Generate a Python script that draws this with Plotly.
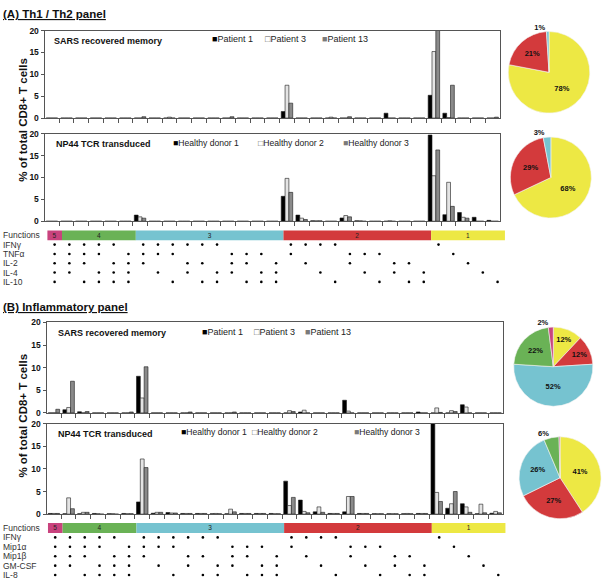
import numpy as np
import plotly.graph_objects as go

W, H = 608, 584
FONT = "Liberation Sans, Arial, sans-serif"

# ---------------- data ----------------
categories = list(range(1, 32))
# function combinations (1 = function positive), one string per category
combos = ["11111",
          "11110", "11101", "11011", "10111", "01111",
          "11100", "11010", "11001", "10110", "10101", "10011", "01110", "01101", "01011", "00111",
          "11000", "10100", "10010", "10001", "01100", "01010", "01001", "00110", "00101", "00011",
          "10000", "01000", "00100", "00010", "00001"]
func_group_labels = ["5", "4", "3", "2", "1"]
func_group_sizes = [1, 5, 10, 10, 5]

th_functions = ["IFNγ", "TNFα", "IL-2", "IL-4", "IL-10"]
inf_functions = ["IFNγ", "Mip1α", "Mip1β", "GM-CSF", "IL-8"]

sars_names = ["Patient 1", "Patient 3", "Patient 13"]
np44_names = ["Healthy donor 1", "Healthy donor 2", "Healthy donor 3"]

# (A) Th1/Th2 panel, SARS recovered memory
a_sars_p1 = [0, 0, 0, 0, 0, 0, 0, 0, 0, 0, 0, 0, 0, 0, 0, 0, 1.5, 0, 0, 0,
             0, 0, 0, 1.1, 0, 0, 5.2, 1.1, 0, 0, 0]
a_sars_p3 = [0, 0, 0, 0, 0, 0, 0, 0, 0.2, 0, 0, 0, 0, 0, 0, 0, 7.5, 0, 0, 0.2,
             0, 0, 0, 0, 0, 0, 15.2, 0.1, 0, 0, 0]
a_sars_p13 = [0, 0, 0, 0, 0, 0, 0.3, 0, 0, 0, 0, 0, 0.3, 0, 0, 0, 3.4, 0, 0, 0,
              0.3, 0, 0, 0, 0, 0, 20.5, 7.5, 0, 0, 0.2]
# (A) NP44 TCR transduced
a_np44_hd1 = [0, 0, 0, 0, 0, 0, 1.4, 0, 0, 0, 0, 0, 0, 0, 0, 0, 5.7, 1.4, 0.1, 0,
              0.75, 0.1, 0, 0, 0, 0, 19.7, 1.5, 2.0, 0.9, 0.2]
a_np44_hd2 = [0, 0, 0, 0, 0, 0, 1.0, 0, 0, 0, 0, 0, 0, 0, 0, 0, 9.8, 0.7, 0.1, 0,
              1.3, 0.1, 0, 0.1, 0, 0, 10.4, 8.9, 0.9, 0, 0]
a_np44_hd3 = [0, 0, 0, 0, 0, 0, 0.7, 0, 0, 0, 0, 0, 0, 0, 0, 0, 6.6, 0.4, 0.1, 0,
              1.0, 0, 0, 0, 0, 0, 16.3, 3.4, 0.7, 0, 0]
# (B) Inflammatory panel, SARS recovered memory
b_sars_p1 = [0, 0.7, 0.25, 0, 0, 0, 8.1, 0, 0, 0, 0, 0, 0, 0, 0, 0, 0, 0.2, 0, 0,
             2.8, 0, 0, 0, 0, 0.2, 0, 0, 1.8, 0, 0]
b_sars_p3 = [0, 1.2, 0, 0, 0, 0, 3.3, 0, 0, 0, 0, 0, 0, 0, 0, 0, 0.5, 0.6, 0, 0,
             0.4, 0, 0, 0, 0, 0, 1.1, 0.5, 1.3, 0, 0]
b_sars_p13 = [0.8, 7.0, 0.3, 0, 0, 0.2, 10.2, 0, 0, 0.2, 0, 0, 0.2, 0, 0, 0, 0.3, 0, 0, 0,
              0, 0, 0, 0, 0, 0, 0.1, 0.3, 0, 0, 0]
# (B) NP44 TCR transduced
b_np44_hd1 = [0.15, 0.1, 0.1, 0.15, 0.1, 0.15, 2.7, 0.2, 0.35, 0.15, 0.15, 0.1, 0.1, 0.15, 0.15,
              0.15, 7.3, 3.1, 0.5, 0.15, 0.5, 0.15, 0.1, 0.1, 0.1, 0.15, 22, 1.3, 2.3, 0.1, 0.2]
b_np44_hd2 = [0.15, 3.6, 0.4, 0.1, 0.1, 0.1, 12.2, 0.4, 0.25, 0.15, 0.15, 0.15, 1.1, 0.15, 0.15,
              0.1, 1.9, 0.6, 1.6, 0.15, 3.9, 0.15, 0.1, 0.1, 0.15, 0.15, 4.8, 2.3, 1.6, 2.2, 0.6]
b_np44_hd3 = [0.15, 1.2, 0.4, 0, 0, 0.1, 10.3, 0.4, 0.25, 0.15, 0.15, 0.1, 0.5, 0.15, 0.15,
              0.1, 3.7, 0.3, 0.4, 0.15, 3.9, 0.15, 0.1, 0.1, 0.1, 0.15, 2.8, 5.0, 0.4, 0.3, 0.3]

# pie shares, order: 1, 2, 3, 4, 5 functions (%)
pie_groups = ["1", "2", "3", "4", "5"]
pie_a_sars = [78, 21, 1, 0, 0]
pie_a_np44 = [68, 29, 3, 0, 0]
pie_b_sars = [12, 12, 52, 22, 2]
pie_b_np44 = [41, 27, 26, 6, 0.4]

# ---------------- styles ----------------
group_colors = {"5": "#C9437E", "4": "#6AB256", "3": "#76C3D0", "2": "#D33A3C", "1": "#EDE844"}
series_colors = ["#000000", "#E4E4E4", "#8A8A8A"]
swatch = ["■", "□", "■"]
swatch_colors = ["#000000", "#555555", "#7A7A7A"]


def fx(px):
    return min(max(px / W, 0), 1)


def fy(py):
    return min(max(1 - py / H, 0), 1)


fig = go.Figure()

panels = [
    # name, axis id, data, names, domain x px, domain y px, title pos, legend xs, legend y, legend font
    ("SARS recovered memory", 1, [a_sars_p1, a_sars_p3, a_sars_p13], sars_names,
     (45, 505), (26, 115), (53, 36.5), [212, 266, 323], 34.5, 9),
    ("NP44 TCR transduced", 2, [a_np44_hd1, a_np44_hd2, a_np44_hd3], np44_names,
     (45, 505), (131, 220), (55, 141), [173, 258.5, 344.5], 140, 8.6),
    ("SARS recovered memory", 3, [b_sars_p1, b_sars_p3, b_sars_p13], sars_names,
     (47, 508), (323, 415), (57, 334), [202, 254.5, 306], 333, 9),
    ("NP44 TCR transduced", 4, [b_np44_hd1, b_np44_hd2, b_np44_hd3], np44_names,
     (47, 508), (426, 518), (57, 436), [181, 252, 355.5], 434.5, 8.6),
]

annotations = []
layout_axes = {}
for title, k, series, names, dx, dy, tpos, lxs, ly, lfs in panels:
    xa = "x" if k == 1 else f"x{k}"
    ya = "y" if k == 1 else f"y{k}"
    for s, (vals, nm) in enumerate(zip(series, names)):
        fig.add_trace(go.Bar(x=categories, y=vals, name=nm, xaxis=xa, yaxis=ya,
                             marker=dict(color=series_colors[s], line=dict(color="#1a1a1a", width=0.6)),
                             showlegend=False, hoverinfo="y+name"))
    kx = "xaxis" if k == 1 else f"xaxis{k}"
    ky = "yaxis" if k == 1 else f"yaxis{k}"
    layout_axes[kx] = dict(domain=[fx(dx[0]), fx(dx[1])], range=[0.5, 31.5], anchor=ya,
                           showline=True, mirror=True, linecolor="#555", linewidth=1,
                           ticks="outside", ticklen=4, tickcolor="#555",
                           tickvals=[c + 0.5 for c in categories[:-1]],
                           showticklabels=False, showgrid=False, zeroline=False)
    layout_axes[ky] = dict(domain=[fy(dy[1]), fy(dy[0])], range=[0, 20], anchor=xa,
                           tickvals=[0, 5, 10, 15, 20], showline=True, mirror=True,
                           linecolor="#555", linewidth=1, ticks="outside", ticklen=3,
                           tickcolor="#555", showgrid=False, zeroline=False,
                           tickfont=dict(family=FONT, size=8.5, color="#111", weight="bold"))
    annotations.append(dict(text=f"<b>{title}</b>", xref="paper", yref="paper",
                            x=fx(tpos[0]), y=fy(tpos[1]), xanchor="left", yanchor="middle",
                            showarrow=False, font=dict(family=FONT, size=9, color="#111")))
    for s, nm in enumerate(names):
        annotations.append(dict(text=f"<span style='color:{swatch_colors[s]}'>{swatch[s]}</span>{nm}",
                                xref="paper", yref="paper", x=fx(lxs[s]), y=fy(ly),
                                xanchor="left", yanchor="middle", showarrow=False,
                                font=dict(family=FONT, size=lfs, color="#222")))

# ---------------- function matrices ----------------
matrices = [
    (5, th_functions, (47.7, 510), (228, 287), 234.3, 9.48),
    (6, inf_functions, (48.3, 510.7), (526, 584), 532.1, 9.58),
]
starts = np.concatenate([[0], np.cumsum(func_group_sizes)[:-1]])
for k, funcs, dx, dy, row0, step in matrices:
    xa, ya = f"x{k}", f"y{k}"
    fig.add_trace(go.Bar(orientation="h", x=func_group_sizes, base=starts,
                         y=[0] * len(func_group_sizes), width=10 / step,
                         marker=dict(color=[group_colors[g] for g in func_group_labels], line=dict(width=0)),
                         text=func_group_labels, textposition="inside", insidetextanchor="middle",
                         textangle=0, constraintext="none",
                         textfont=dict(family=FONT, size=6.5, color="#222"),
                         xaxis=xa, yaxis=ya, showlegend=False, hoverinfo="skip"))
    dot_x, dot_y = [], []
    for r in range(len(funcs)):
        for i, cmb in enumerate(combos):
            if cmb[r] == "1":
                dot_x.append(i + 0.5)
                dot_y.append(r + 1)
    fig.add_trace(go.Scatter(x=dot_x, y=dot_y, mode="markers", xaxis=xa, yaxis=ya,
                             marker=dict(size=2.6, color="#000"), showlegend=False,
                             hoverinfo="skip"))
    top = -(row0 - dy[0]) / step
    bot = (dy[1] - row0) / step
    layout_axes[f"xaxis{k}"] = dict(domain=[fx(dx[0]), fx(dx[1])], range=[0, 31], anchor=ya,
                                    visible=False)
    layout_axes[f"yaxis{k}"] = dict(domain=[fy(dy[1]), fy(dy[0])], range=[bot, top], anchor=xa,
                                    visible=False)
    for r, lab in enumerate(["Functions"] + funcs):
        annotations.append(dict(text=lab, xref="paper", yref=ya, x=fx(1), y=r,
                                xanchor="left", yanchor="middle", showarrow=False,
                                font=dict(family=FONT, size=8.5, color="#333")))

# ---------------- pies ----------------
pies = [
    (pie_a_sars, (513, 596), (27, 110)),
    (pie_a_np44, (515, 597.7), (134.3, 216.7)),
    (pie_b_sars, (518.3, 599.3), (327.7, 408.3)),
    (pie_b_np44, (523.3, 608), (439.3, 522.7)),
]
pie_font = dict(family=FONT, size=7.5, color="#111", weight="bold")
for vals, dx, dy in pies:
    labs = [g for g, v in zip(pie_groups, vals) if v > 0]
    vv = [v for v in vals if v > 0]
    fig.add_trace(go.Pie(values=vv, labels=labs, sort=False, direction="clockwise", rotation=0,
                         domain=dict(x=[fx(dx[0]), fx(dx[1])], y=[fy(dy[1]), fy(dy[0])]),
                         marker=dict(colors=[group_colors[g] for g in labs],
                                     line=dict(color="#f4f4f4", width=0.6)),
                         text=[f"{v:.0f}%" if v >= 1 else "" for v in vv],
                         textinfo="text",
                         textposition=["inside" if v >= 10 else ("outside" if v >= 1 else "none") for v in vv],
                         insidetextorientation="horizontal",
                         textfont=pie_font, insidetextfont=pie_font, outsidetextfont=pie_font,
                         showlegend=False, hoverinfo="label+percent"))

# ---------------- headers / axis titles ----------------
annotations += [
    dict(text="<b><u>(A) Th1 / Th2 panel</u></b>", xref="paper", yref="paper", x=fx(1), y=fy(9),
         xanchor="left", yanchor="middle", showarrow=False, font=dict(family=FONT, size=11.5, color="#111")),
    dict(text="<b><u>(B) Inflammatory panel</u></b>", xref="paper", yref="paper", x=fx(1), y=fy(307),
         xanchor="left", yanchor="middle", showarrow=False, font=dict(family=FONT, size=11.5, color="#111")),
    dict(text="<b>% of total CD8+ T cells</b>", xref="paper", yref="paper", x=fx(23), y=fy(117),
         textangle=-90, xanchor="center", yanchor="middle", showarrow=False,
         font=dict(family=FONT, size=11.5, color="#111")),
    dict(text="<b>% of total CD8+ T cells</b>", xref="paper", yref="paper", x=fx(23), y=fy(418),
         textangle=-90, xanchor="center", yanchor="middle", showarrow=False,
         font=dict(family=FONT, size=11.5, color="#111")),
]

fig.update_layout(width=W, height=H, autosize=False, margin=dict(l=0, r=0, t=0, b=0),
                  paper_bgcolor="white", plot_bgcolor="white", barmode="group",
                  bargap=0.22, bargroupgap=0, font=dict(family=FONT),
                  annotations=annotations, **layout_axes)

fig.write_html("out.html", config={"displayModeBar": False},
               post_script="document.body.style.margin='0px';document.body.style.overflow='hidden';")
